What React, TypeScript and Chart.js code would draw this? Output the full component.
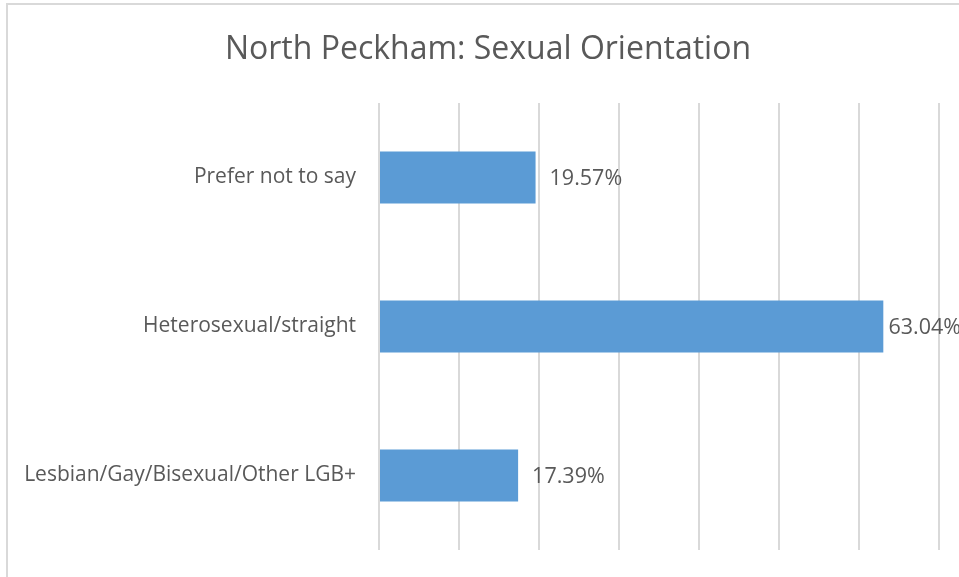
import React, { useEffect, useRef } from "react";
import { Chart, registerables } from "chart.js";

Chart.register(...registerables);

const title = "North Peckham: Sexual Orientation";
const categories = ["Prefer not to say", "Heterosexual/straight", "Lesbian/Gay/Bisexual/Other LGB+"];
const values = [19.57, 63.04, 17.39];
const valueLabels = ["19.57%", "63.04%", "17.39%"];
const xMin = 0;
const xMax = 70;
const xStep = 10;

const FONT = "'Open Sans', 'Noto Sans', sans-serif";
const TEXT = "#595959";

const framePlugin = {
  id: "frame",
  beforeDraw(chart: any) {
    const ctx = chart.ctx;
    ctx.save();
    ctx.fillStyle = "#ffffff";
    ctx.fillRect(0, 0, chart.width, chart.height);
    ctx.strokeStyle = "#D9D9D9";
    ctx.lineWidth = 2;
    ctx.strokeRect(7, 4, chart.width + 20, chart.height + 20);
    ctx.restore();
  },
  afterDraw(chart: any) {
    const ctx = chart.ctx;
    ctx.save();
    ctx.fillStyle = TEXT;
    ctx.font = `32px ${FONT}`;
    ctx.textAlign = "center";
    ctx.textBaseline = "middle";
    ctx.fillText(title, 488, 50);
    ctx.restore();
  },
};

const valueLabelPlugin = {
  id: "valueLabels",
  afterDatasetsDraw(chart: any) {
    const ctx = chart.ctx;
    const meta = chart.getDatasetMeta(0);
    ctx.save();
    ctx.fillStyle = TEXT;
    ctx.font = `21.5px ${FONT}`;
    ctx.textAlign = "left";
    ctx.textBaseline = "middle";
    meta.data.forEach((bar: any, i: number) => {
      const w = ctx.measureText(valueLabels[i]).width;
      const x = Math.min(bar.x + 14, chart.width - w + 2);
      ctx.fillText(valueLabels[i], x, bar.y + 1);
    });
    ctx.restore();
  },
};

export default function App() {
  const ref = useRef<HTMLCanvasElement | null>(null);
  useEffect(() => {
    if (!ref.current) return;
    const chart = new Chart(ref.current, {
      type: "bar",
      data: {
        labels: categories,
        datasets: [
          {
            data: values,
            backgroundColor: "#5B9BD5",
            borderWidth: 0,
            barPercentage: 0.35,
            categoryPercentage: 1,
          },
        ],
      },
      options: {
        indexAxis: "y",
        animation: false,
        responsive: true,
        maintainAspectRatio: false,
        layout: { padding: { top: 103, left: 0, right: 20, bottom: 27 } },
        plugins: {
          legend: { display: false },
          title: { display: false },
          tooltip: { enabled: false },
        },
        scales: {
          x: {
            min: xMin,
            max: xMax,
            ticks: { display: false, stepSize: xStep },
            grid: { color: "#D9D9D9", lineWidth: 2, drawTicks: false },
            border: { display: false },
            afterFit(scale: any) {
              scale.height = 0;
            },
          },
          y: {
            ticks: { color: TEXT, font: { family: FONT, size: 21 }, padding: 23 },
            grid: { display: false, drawTicks: false },
            border: { display: false },
            afterFit(scale: any) {
              scale.width = 379;
              scale.paddingTop = 0;
              scale.paddingBottom = 0;
            },
          },
        },
      },
      plugins: [framePlugin, valueLabelPlugin],
    });
    return () => chart.destroy();
  }, []);
  return (
    <div style={{ position: "absolute", left: 0, top: 0, width: 959, height: 577 }}>
      <canvas ref={ref} />
    </div>
  );
}
